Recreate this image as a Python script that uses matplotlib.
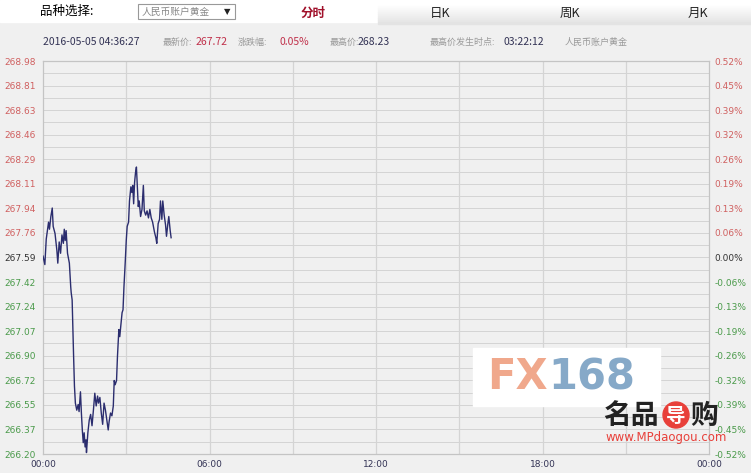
import numpy as np
import matplotlib.pyplot as plt
from matplotlib.patches import Rectangle, Ellipse

plt.rcParams['font.family'] = ['DejaVu Sans', 'Noto Sans CJK SC']

# 数据 (分钟, 价格)
minutes = [0, 4, 7, 12, 14, 17, 20, 22, 26, 30, 32, 35, 38, 41, 44, 46, 48, 50, 53, 57,
           60, 61, 63, 66, 68, 70, 73, 76, 78, 81, 83, 85, 87, 89, 91, 93, 94, 97, 100, 103,
           106, 109, 112, 115, 118, 120, 123, 126, 129, 132, 135, 138, 141, 143, 146, 149, 152, 154, 156, 159,
           161, 164, 166, 168, 171, 173, 175, 178, 180, 182, 185, 187, 190, 192, 194, 196, 198, 200, 202, 204,
           206, 208, 211, 214, 217, 219, 222, 225, 228, 231, 234, 237, 241, 244, 246, 249, 252, 254, 257, 259,
           262, 265, 267, 270, 272, 275, 277]
prices = [267.60, 267.54, 267.72, 267.84, 267.79, 267.88, 267.94, 267.81, 267.76, 267.64, 267.55, 267.70, 267.62, 267.75, 267.69, 267.79, 267.71, 267.78, 267.62, 267.55,
          267.38, 267.34, 267.29, 266.91, 266.68, 266.56, 266.51, 266.55, 266.50, 266.64, 266.49, 266.37, 266.28, 266.35, 266.25, 266.30, 266.21, 266.35, 266.44, 266.48,
          266.40, 266.51, 266.63, 266.54, 266.61, 266.56, 266.60, 266.49, 266.41, 266.56, 266.51, 266.44, 266.37, 266.43, 266.49, 266.47, 266.54, 266.72, 266.69, 266.72,
          266.89, 267.08, 267.03, 267.10, 267.20, 267.22, 267.38, 267.57, 267.71, 267.81, 267.84, 267.99, 268.09, 268.05, 268.10, 267.97, 268.12, 268.19, 268.23, 268.09,
          267.95, 267.99, 267.88, 267.93, 268.10, 267.92, 267.89, 267.92, 267.87, 267.93, 267.87, 267.84, 267.77, 267.73, 267.69, 267.83, 267.86, 267.99, 267.86, 267.99,
          267.89, 267.82, 267.74, 267.83, 267.88, 267.78, 267.73]

price_labels = ['268.98', '268.81', '268.63', '268.46', '268.29', '268.11', '267.94', '267.76', '267.59',
                '267.42', '267.24', '267.07', '266.90', '266.72', '266.55', '266.37', '266.20']
pct_labels = ['0.52%', '0.45%', '0.39%', '0.32%', '0.26%', '0.19%', '0.13%', '0.06%', '0.00%',
              '-0.06%', '-0.13%', '-0.19%', '-0.26%', '-0.32%', '-0.39%', '-0.45%', '-0.52%']
time_labels = ['00:00', '06:00', '12:00', '18:00', '00:00']

W, H = 751, 473
def fx(x): return x / W
def fy(y): return 1 - y / H

fig = plt.figure(figsize=(7.51, 4.73), dpi=100, facecolor='#f0f0f0')

# 顶部栏
fig.patches.append(Rectangle((0, fy(22)), 1, 22 / H, transform=fig.transFigure, color='white', zorder=0))
for i in range(10):
    c = 1 - i * 0.012
    fig.patches.append(Rectangle((fx(378), fy(4 + i * 2 + 2)), 1 - fx(378), 2 / H,
                                 transform=fig.transFigure, color=(c, c, c), zorder=0))
fig.patches.append(Rectangle((fx(138), fy(19)), 97 / W, 15 / H, transform=fig.transFigure,
                             facecolor='white', edgecolor='#999999', lw=0.8, zorder=1))
cjk = ['Noto Sans CJK SC', 'DejaVu Sans']
fig.text(fx(40), fy(11), '品种选择:', fontsize=9, family=cjk, va='center')
fig.text(fx(142), fy(11.5), '人民币账户黄金', fontsize=7, family=cjk, va='center', color='#888888')
fig.text(fx(224), fy(11.5), '▼', fontsize=6, va='center', color='#222222')
fig.text(fx(313), fy(13), '分时', fontsize=9, family=cjk, va='center', ha='center',
         color='#a0102a', fontweight='bold')
for x, t in [(440, '日K'), (570, '周K'), (698, '月K')]:
    fig.text(fx(x), fy(13), t, fontsize=9, family=cjk, va='center', ha='center', color='#222222')

# 信息栏
info = [(43, '2016-05-05 04:36:27', '#333355'), (163, '最新价:', '#999999'), (196, '267.72', '#c0304a'),
        (238, '涨跌幅:', '#999999'), (280, '0.05%', '#c0304a'), (330, '最高价:', '#999999'),
        (358, '268.23', '#333355'), (430, '最高价发生时点:', '#999999'), (503, '03:22:12', '#333355'),
        (565, '人民币账户黄金', '#999999')]
for x, t, c in info:
    fs = 7.5 if c != '#999999' else 6.5
    fig.text(fx(x), fy(42), t, fontsize=fs, family=cjk, va='center', color=c)

# 主图
ax = fig.add_axes([fx(43), fy(454), 666 / W, 393 / H])
ax.set_facecolor('#f0f0f0')
lo, hi = 266.20, 268.98
ax.set_xlim(0, 24 * 60)
ax.set_ylim(lo, hi)
ticks = np.linspace(hi, lo, len(price_labels))
for y in np.linspace(lo, hi, 33):
    ax.axhline(y, color='#d4d4d4', lw=0.7, zorder=1)
for x in range(180, 24 * 60, 180):
    ax.axvline(x, color='#d4d4d4', lw=0.9, zorder=1)
for s in ax.spines.values():
    s.set_color('#c4c4c4')
    s.set_linewidth(0.9)

ax.plot(minutes, prices, color='#2b2d6e', lw=1.0, zorder=3)

ax.set_yticks(ticks)
ax.set_yticklabels(price_labels)
ax.set_xticks(np.arange(0, 24 * 60 + 1, 360))
ax.set_xticklabels(time_labels)
ax.tick_params(axis='both', length=0, labelsize=6.5, pad=5)
ax.tick_params(axis='x', colors='#333355', pad=4)

def tick_color(i):
    if i < 8:
        return '#d06060'
    if i == 8:
        return '#333333'
    return '#4a9a4a'

for i, lab in enumerate(ax.get_yticklabels()):
    lab.set_color(tick_color(i))

ax2 = ax.twinx()
ax2.set_ylim(lo, hi)
ax2.set_yticks(ticks)
ax2.set_yticklabels(pct_labels)
ax2.tick_params(axis='y', length=0, labelsize=6.5, pad=4)
for i, lab in enumerate(ax2.get_yticklabels()):
    lab.set_color(tick_color(i))
for s in ax2.spines.values():
    s.set_visible(False)

# 水印
fig.patches.append(Rectangle((fx(473), fy(406)), 187 / W, 58 / H, transform=fig.transFigure,
                             color='white', zorder=5))
fig.text(fx(487), fy(377), 'FX', fontsize=30, fontweight='bold', color='#f0a88c', va='center', zorder=6)
fig.text(fx(548), fy(377), '168', fontsize=30, fontweight='bold', color='#86a9c8', va='center', zorder=6)
fig.text(fx(603), fy(416), '名品', fontsize=20, family=cjk, fontweight='bold', color='#222222',
         va='center', zorder=6)
fig.patches.append(Ellipse((fx(676), fy(415)), 26 / W, 26 / H, transform=fig.transFigure,
                           color='#e8403a', zorder=6))
fig.text(fx(676), fy(416), '导', fontsize=14, family=cjk, fontweight='bold', color='white',
         va='center', ha='center', zorder=7)
fig.text(fx(690), fy(416), '购', fontsize=20, family=cjk, fontweight='bold', color='#222222',
         va='center', zorder=6)
fig.text(fx(666), fy(437), 'www.MPdaogou.com', fontsize=8.5, color='#e8403a', va='center',
         ha='center', zorder=6)

fig.savefig('out.png', dpi=100, facecolor=fig.get_facecolor())
